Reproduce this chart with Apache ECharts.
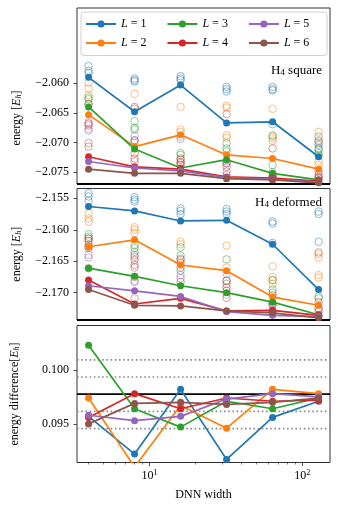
<!DOCTYPE html>
<html>
<head>
<meta charset="utf-8">
<script src="https://cdn.jsdelivr.net/npm/echarts@6/dist/echarts.min.js"></script>
<style>
html,body{margin:0;padding:0;background:#fff}
#chart{width:340px;height:515px}
</style>
</head>
<body>
<div id="chart"></div>
<script>
// DNN widths (x axis, log)
var widths = [4, 8, 16, 32, 64, 128];
var names = ['L = 1', 'L = 2', 'L = 3', 'L = 4', 'L = 5', 'L = 6'];
var colors = ['#1f77b4', '#ff7f0e', '#2ca02c', '#d62728', '#9467bd', '#8c564b'];

// H4 square: best energy per width, one row per L
var squareBest = [
    [-2.0590, -2.0648, -2.0603, -2.0667, -2.0665, -2.0724],
    [-2.0653, -2.0707, -2.0687, -2.0721, -2.0727, -2.0745],
    [-2.0640, -2.0711, -2.0743, -2.0729, -2.0752, -2.0763],
    [-2.0724, -2.0741, -2.0745, -2.0758, -2.0760, -2.0765],
    [-2.0732, -2.0743, -2.0748, -2.0759, -2.0762, -2.0767],
    [-2.0745, -2.0752, -2.0752, -2.0761, -2.0763, -2.0768]
];
// H4 square: other runs (open circles), [L][width] -> values
var squareRuns = [
    [[-2.0571, -2.0579, -2.0583], [-2.0592, -2.0595, -2.0597], [-2.0588, -2.0592, -2.0595], [-2.0606, -2.0610, -2.0614], [-2.0606, -2.0610, -2.0612], [-2.0690, -2.0698, -2.0704, -2.0710]],
    [[-2.0599, -2.0609, -2.0620], [-2.0618, -2.0700], [-2.0640, -2.0678, -2.0682], [-2.0638, -2.0641, -2.0688, -2.0692], [-2.0643, -2.0690, -2.0693, -2.0697], [-2.0682, -2.0696, -2.0701, -2.0732, -2.0738]],
    [[-2.0624, -2.0627, -2.0635], [-2.0664, -2.0675, -2.0678], [-2.0718, -2.0721], [-2.0701, -2.0710, -2.0715], [-2.0669, -2.0688, -2.0738], [-2.0712, -2.0718, -2.0722]],
    [[-2.0635, -2.0668, -2.0671], [-2.0640, -2.0643, -2.0718, -2.0727], [-2.0729, -2.0733, -2.0738], [-2.0652, -2.0735, -2.0741], [-2.0710, -2.0757], [-2.0749, -2.0758]],
    [[-2.0666, -2.0677, -2.0680], [-2.0689, -2.0697], [-2.0690, -2.0694], [-2.0732, -2.0735], [-2.0750, -2.0757], [-2.0755, -2.0760]],
    [[-2.0701, -2.0707], [-2.0696, -2.0732], [-2.0727, -2.0735], [-2.0749, -2.0755], [-2.0758, -2.0763], [-2.0760, -2.0765]]
];

// H4 deformed
var deformedBest = [
    [-2.1563, -2.1570, -2.1586, -2.1585, -2.1623, -2.1695],
    [-2.1627, -2.1616, -2.1656, -2.1665, -2.1707, -2.1720],
    [-2.1661, -2.1674, -2.1689, -2.1700, -2.1715, -2.1735],
    [-2.1680, -2.1718, -2.1709, -2.1729, -2.1728, -2.1736],
    [-2.1689, -2.1697, -2.1706, -2.1730, -2.1736, -2.1738],
    [-2.1695, -2.1720, -2.1721, -2.1729, -2.1732, -2.1740]
];
var deformedRuns = [
    [[-2.1542, -2.1547, -2.1554], [-2.1548, -2.1552, -2.1555], [-2.1566, -2.1570, -2.1575], [-2.1567, -2.1571, -2.1575], [-2.1587, -2.1590, -2.1621], [-2.1571, -2.1575, -2.1619]],
    [[-2.1574, -2.1582, -2.1587], [-2.1596, -2.1600, -2.1605], [-2.1619, -2.1623], [-2.1625, -2.1660], [-2.1658, -2.1675, -2.1680, -2.1686], [-2.1639, -2.1644, -2.1672, -2.1676]],
    [[-2.1607, -2.1611, -2.1614], [-2.1624, -2.1629, -2.1635], [-2.1628, -2.1641, -2.1665], [-2.1647, -2.1681], [-2.1680, -2.1695, -2.1700], [-2.1706, -2.1709]],
    [[-2.1614, -2.1618, -2.1627], [-2.1648, -2.1656, -2.1675], [-2.1648, -2.1653, -2.1683], [-2.1692, -2.1697, -2.1708], [-2.1704, -2.1720], [-2.1715, -2.1725]],
    [[-2.1640, -2.1644], [-2.1640, -2.1681, -2.1683], [-2.1672, -2.1677], [-2.1670, -2.1703], [-2.1717, -2.1734], [-2.1725, -2.1735]],
    [[-2.1624, -2.1629, -2.1661], [-2.1643, -2.1660, -2.1709], [-2.1646, -2.1660], [-2.1681, -2.1686], [-2.1717, -2.1730], [-2.1636, -2.1730, -2.1738]]
];

// energy difference square - deformed
var diffBest = [
    [0.0957, 0.0922, 0.0982, 0.0917, 0.0956, 0.0971],
    [0.0974, 0.0910, 0.0967, 0.0946, 0.0982, 0.0978],
    [0.1023, 0.0964, 0.0947, 0.0971, 0.0964, 0.0974],
    [0.0956, 0.0978, 0.0964, 0.0974, 0.0971, 0.0972],
    [0.0958, 0.0953, 0.0957, 0.0973, 0.0978, 0.0975],
    [0.0950, 0.0969, 0.0970, 0.0968, 0.0970, 0.0974]
];

// reference lines
var exactSquare = -2.0770;
var exactDeformed = -2.17434;
var exactDiff = 0.09775;
var kcal = 0.0015936;

var squareTicks = [-2.075, -2.070, -2.065, -2.060];
var deformedTicks = [-2.170, -2.165, -2.160, -2.155];
var diffTicks = [0.095, 0.100];
var majorX = [10, 100];
var minorX = [4, 5, 6, 7, 8, 9, 20, 30, 40, 50, 60, 70, 80, 90];
var xMin = 3.36, xMax = 152;

var serif = 'Liberation Serif';
var chart = echarts.init(document.getElementById('chart'));

function pairs(vals) {
    return widths.map(function (w, i) { return [w, vals[i]]; });
}
function runPoints(runs) {
    var out = [];
    runs.forEach(function (col, i) {
        col.forEach(function (v) { out.push([widths[i], v]); });
    });
    return out;
}
function fmtY(v) {
    return v.toFixed(3).replace('-', '\u2212');
}
// horizontal reference line across the whole x range
function hline(pi, v, color, width, type) {
    return {
        type: 'line', xAxisIndex: pi, yAxisIndex: pi, data: [[xMin, v], [xMax, v]],
        symbol: 'none', silent: true, z: 2, clip: false,
        lineStyle: {color: color, width: width, type: type}
    };
}

var nameRich = {
    i: {fontFamily: serif, fontSize: 12, fontStyle: 'italic', color: '#000'},
    sub: {fontFamily: serif, fontSize: 8, fontStyle: 'italic', color: '#000', verticalAlign: 'bottom', padding: [4, 0, 0, 0]}
};

function yAxis(idx, min, max, ticks, name, gap, pad) {
    return {
        type: 'value', gridIndex: idx, min: min, max: max,
        splitLine: {show: false},
        axisLine: {show: false},
        axisTick: {show: true, length: 3.5, customValues: ticks, lineStyle: {color: '#222', width: 0.8}},
        axisLabel: {customValues: ticks, formatter: fmtY, fontFamily: serif, fontSize: 12, color: '#000', margin: 8},
        name: name, nameLocation: 'middle', nameGap: gap,
        nameTextStyle: {fontFamily: serif, fontSize: 12, color: '#000', rich: nameRich, padding: pad}
    };
}
function xAxis(idx) {
    return {
        type: 'log', gridIndex: idx, min: xMin, max: xMax, position: 'bottom',
        axisLine: {show: false}, axisTick: {show: false},
        axisLabel: {show: false}, splitLine: {show: false}, minorSplitLine: {show: false}
    };
}

var xAxes = [xAxis(0), xAxis(1), xAxis(2), xAxis(2)];
xAxes[2].axisTick = {show: true, length: 3.5, customValues: majorX, lineStyle: {color: '#222', width: 0.8}};
xAxes[2].axisLabel = {
    show: true, customValues: majorX, margin: 6, color: '#000',
    formatter: function (v) { return '10{sup|' + Math.round(Math.log10(v)) + '}'; },
    fontFamily: serif, fontSize: 12,
    rich: {sup: {fontFamily: serif, fontSize: 8, color: '#000', verticalAlign: 'top', padding: [0, 0, 6, 0]}}
};
xAxes[2].name = 'DNN width';
xAxes[2].nameLocation = 'middle';
xAxes[2].nameGap = 26;
xAxes[2].nameTextStyle = {fontFamily: serif, fontSize: 12, color: '#000'};
xAxes[3].axisTick = {show: true, length: 2, customValues: minorX, lineStyle: {color: '#222', width: 0.6}};

var series = [];
var panels = [
    {best: squareBest, runs: squareRuns, ref: exactSquare},
    {best: deformedBest, runs: deformedRuns, ref: exactDeformed},
    {best: diffBest, runs: null, ref: exactDiff}
];
panels.forEach(function (p, pi) {
    if (pi === 2) {
        [-2, -1, 1, 2].forEach(function (k) {
            series.push(hline(pi, exactDiff + k * kcal, '#8a8a8a', 1.6, [1.6, 2.6]));
        });
    }
    series.push(hline(pi, p.ref, '#000', 1.8, 'solid'));
    if (p.runs) {
        p.runs.forEach(function (r, li) {
            series.push({
                type: 'scatter', name: 'runs ' + names[li], xAxisIndex: pi, yAxisIndex: pi,
                data: runPoints(r), symbol: 'circle', symbolSize: 7.5, silent: true, z: 1,
                itemStyle: {color: 'rgba(0,0,0,0)', borderColor: colors[li], borderWidth: 1, opacity: 0.5}
            });
        });
    }
    p.best.forEach(function (b, li) {
        series.push({
            type: 'line', name: names[li], xAxisIndex: pi, yAxisIndex: pi,
            data: pairs(b), symbol: 'circle', symbolSize: 7, showSymbol: true,
            lineStyle: {color: colors[li], width: 1.7}, itemStyle: {color: colors[li]},
            silent: true, z: 3
        });
    });
});

var legendBase = {
    left: 85, itemWidth: 30, itemHeight: 9, itemGap: 20, selectedMode: false, padding: 0,
    textStyle: {fontFamily: serif, fontSize: 12, color: '#000',
        rich: {i: {fontFamily: serif, fontSize: 12, fontStyle: 'italic', color: '#000'}}},
    formatter: function (n) { return '{i|L} = ' + n.slice(4); }
};

var subRich = {s: {fontFamily: serif, fontSize: 9, color: '#000', verticalAlign: 'bottom', padding: [4, 0, 0, 0]}};

var option = {
    animation: false,
    backgroundColor: '#fff',
    grid: [
        {left: 77, width: 253, top: 8, height: 176, show: true, borderColor: '#333', borderWidth: 1},
        {left: 77, width: 253, top: 188.5, height: 131.5, show: true, borderColor: '#333', borderWidth: 1},
        {left: 77, width: 253, top: 325.5, height: 137, show: true, borderColor: '#333', borderWidth: 1}
    ],
    xAxis: xAxes,
    yAxis: [
        yAxis(0, exactSquare, -2.0473, squareTicks, 'energy [{i|E}{sub|h}]', 54, [0, 44, 0, 0]),
        yAxis(1, exactDeformed, -2.15344, deformedTicks, 'energy [{i|E}{sub|h}]', 54, 0),
        yAxis(2, 0.09142, 0.10412, diffTicks, 'energy difference[{i|E}{sub|h}]', 56, 0)
    ],
    legend: [
        Object.assign({}, legendBase, {top: 18, data: [names[0], names[2], names[4]]}),
        Object.assign({}, legendBase, {top: 37, data: [names[1], names[3], names[5]]})
    ],
    title: [
        {text: 'H{s|4} square', right: 18, top: 64, padding: 0,
            textStyle: {fontFamily: serif, fontSize: 13, fontWeight: 'normal', color: '#000', rich: subRich}},
        {text: 'H{s|4} deformed', right: 18, top: 196, padding: 0,
            textStyle: {fontFamily: serif, fontSize: 13, fontWeight: 'normal', color: '#000', rich: subRich}}
    ],
    graphic: [
        {type: 'rect', left: 80.5, top: 11.5, z: 0,
            shape: {width: 246, height: 43.5, r: 3},
            style: {fill: '#fff', stroke: '#d0d0d0', lineWidth: 1}}
    ],
    series: series
};
chart.setOption(option);
</script>
</body>
</html>
